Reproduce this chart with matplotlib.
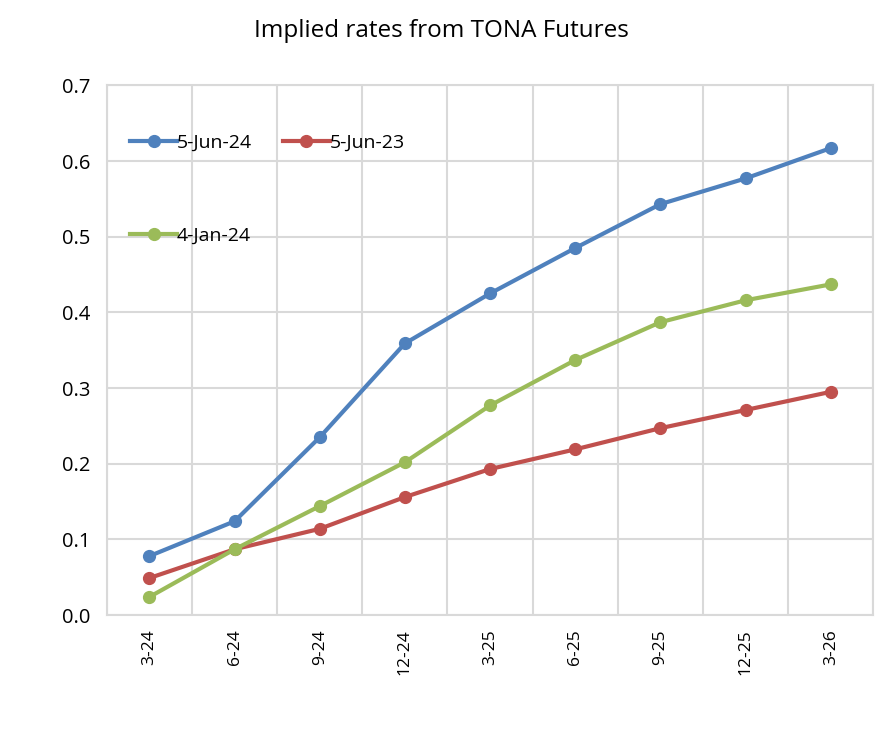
import matplotlib.pyplot as plt
import numpy as np

plt.rcParams['font.family'] = ['Open Sans', 'DejaVu Sans']

contracts = ['3-24', '6-24', '9-24', '12-24', '3-25', '6-25', '9-25', '12-25', '3-26']
jun24 = [0.078, 0.124, 0.235, 0.359, 0.425, 0.485, 0.543, 0.577, 0.617]
jun23 = [0.049, 0.087, 0.114, 0.156, 0.193, 0.219, 0.247, 0.271, 0.295]
jan24 = [0.024, 0.087, 0.144, 0.202, 0.277, 0.337, 0.387, 0.416, 0.437]

x = np.arange(len(contracts))

fig = plt.figure(figsize=(8.83, 7.42), dpi=100)
ax = fig.add_axes([0.121, 0.171, 0.868, 0.714])

l1, = ax.plot(x, jun24, color='#4F81BD', lw=3, marker='o', ms=8.5, label='5-Jun-24')
l2, = ax.plot(x, jun23, color='#C0504D', lw=3, marker='o', ms=8.5, label='5-Jun-23')
l3, = ax.plot(x, jan24, color='#9BBB59', lw=3, marker='o', ms=8.5, label='4-Jan-24')

ax.set_xlim(-0.5, len(contracts) - 0.5)
ax.set_ylim(0, 0.7)
ax.set_yticks(np.arange(0, 0.71, 0.1))
ax.set_yticklabels([f'{v:.1f}' for v in np.arange(0, 0.71, 0.1)], fontsize=14.5)
ax.set_xticks(x)
ax.set_xticklabels(contracts, rotation=90, fontsize=12.5)
ax.set_xticks(np.arange(-0.5, len(contracts)), minor=True)
ax.tick_params(axis='x', which='major', length=0, pad=10)
ax.tick_params(axis='x', which='minor', length=0)
ax.tick_params(axis='y', length=0, pad=12)

ax.grid(True, axis='y', color='#D9D9D9', lw=1.5)
ax.grid(True, axis='x', which='minor', color='#D9D9D9', lw=1.5)
ax.set_axisbelow(True)
for s in ax.spines.values():
    s.set_color('#D9D9D9')
    s.set_linewidth(1.5)

ax.legend(handles=[l1, l3, l2], ncol=2, loc='upper left', bbox_to_anchor=(0.0, 0.952),
          frameon=False, fontsize=14, labelspacing=3.85, handlelength=2.4,
          handletextpad=0.0, columnspacing=1.6, borderaxespad=0.8)

fig.suptitle('Implied rates from TONA Futures', y=0.975, fontsize=17.5)

fig.savefig('out.png', dpi=100)
